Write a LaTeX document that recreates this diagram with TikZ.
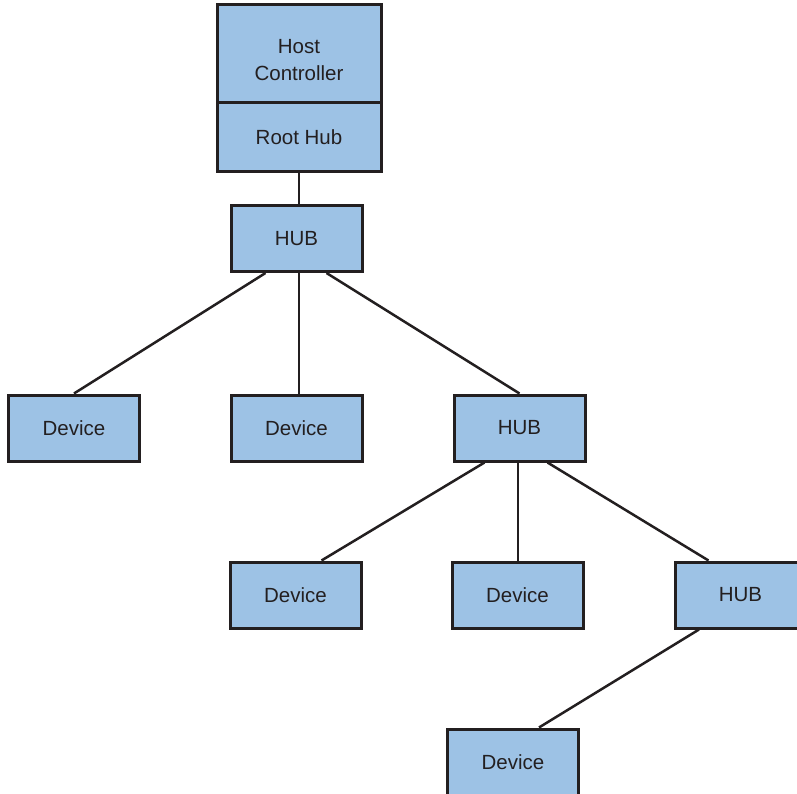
\documentclass[tikz,border=0pt]{standalone}
\usepackage{fontspec}
\setmainfont{Liberation Sans}
\definecolor{boxfill}{RGB}{157,194,229}
\definecolor{ink}{RGB}{35,31,32}
\tikzset{
  box/.style={draw=ink, fill=boxfill, line width=3pt, rectangle, inner sep=0pt,
    minimum width=131pt, minimum height=66pt, text=ink,
    font=\fontsize{20.5}{27}\selectfont},
  wire/.style={draw=ink, line width=2.5pt},
  lbl/.style={text=ink, align=center, font=\fontsize{20.5}{27}\selectfont}
}
\begin{document}
\begin{tikzpicture}[x=1pt,y=-1pt]
\useasboundingbox (0,0) rectangle (797,794);
\clip (0,0) rectangle (797,794);
% host controller / root hub
\node[box, minimum width=164pt, minimum height=98pt] (host) at (299,54) {};
\node[lbl] (hosttext) at (299,60) {Host\\Controller};
\node[box, minimum width=164pt, minimum height=69pt] (root) at (299,137.5) {Root Hub};
% level 1
\node[box] (hub1) at (296.5,238.5) {HUB};
% level 2
\node[box] (dev1) at (74,428) {Device};
\node[box] (dev2) at (296.5,428) {Device};
\node[box] (hub2) at (519.5,428) {HUB};
% level 3
\node[box] (dev3) at (295.5,595) {Device};
\node[box] (dev4) at (517.5,595) {Device};
\node[box] (hub3) at (740.5,595) {HUB};
% level 4
\node[box] (dev5) at (513,762) {Device};
% connectors
\draw[wire] ([xshift=0pt]root.south) -- (root.south |- hub1.north);
\draw[wire] ([xshift=-31pt]hub1.south) -- (dev1.north);
\draw[wire] ([xshift=2.5pt]hub1.south) -- ([xshift=2.5pt]dev2.north);
\draw[wire] ([xshift=30pt]hub1.south) -- (hub2.north);
\draw[wire] ([xshift=-35pt]hub2.south) -- ([xshift=26pt]dev3.north);
\draw[wire] ([xshift=-1.5pt]hub2.south) -- ([xshift=0.5pt]dev4.north);
\draw[wire] ([xshift=28pt]hub2.south) -- ([xshift=-32pt]hub3.north);
\draw[wire] ([xshift=-41.5pt]hub3.south) -- ([xshift=26pt]dev5.north);
\end{tikzpicture}
\end{document}
